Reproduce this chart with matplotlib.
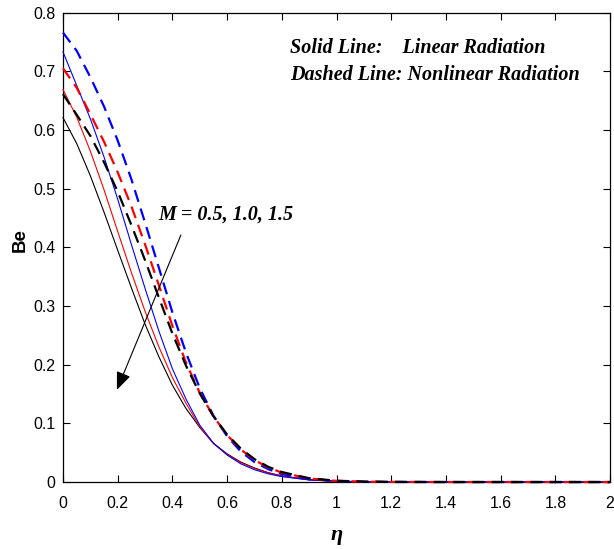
import matplotlib
matplotlib.use("Agg")
import matplotlib.pyplot as plt

# similarity variable
eta = [0.0, 0.05, 0.1, 0.15, 0.2, 0.25, 0.3, 0.35, 0.4, 0.45, 0.5, 0.55,
       0.6, 0.65, 0.7, 0.75, 0.8, 0.9, 1.0, 1.1, 1.2, 1.4, 1.6, 1.8, 2.0]

# Bejan number, linear radiation (solid), M = 0.5, 1.0, 1.5 -> blue, red, black
be_lin_black = [0.621, 0.577, 0.522, 0.460, 0.395, 0.331, 0.269, 0.214, 0.165, 0.125,
                0.093, 0.066, 0.048, 0.034, 0.024, 0.016, 0.0105, 0.004, 0.0015, 0.0005,
                0.0002, 0.0, 0.0, 0.0, 0.0]
be_lin_red = [0.669, 0.622, 0.564, 0.498, 0.427, 0.357, 0.291, 0.231, 0.178, 0.134,
              0.094, 0.066, 0.047, 0.033, 0.023, 0.0155, 0.010, 0.0037, 0.0013, 0.0004,
              0.0001, 0.0, 0.0, 0.0, 0.0]
be_lin_blue = [0.733, 0.676, 0.619, 0.554, 0.482, 0.405, 0.330, 0.258, 0.193, 0.141,
               0.097, 0.066, 0.046, 0.031, 0.021, 0.014, 0.0092, 0.0035, 0.0013, 0.0004,
               0.0001, 0.0, 0.0, 0.0, 0.0]

# Bejan number, nonlinear radiation (dashed)
be_nl_black = [0.661, 0.626, 0.590, 0.545, 0.495, 0.438, 0.378, 0.315, 0.253, 0.198,
               0.151, 0.112, 0.081, 0.057, 0.039, 0.026, 0.017, 0.0064, 0.0022, 0.0007,
               0.0002, 0.0, 0.0, 0.0, 0.0]
be_nl_red = [0.705, 0.672, 0.627, 0.580, 0.528, 0.470, 0.405, 0.336, 0.266, 0.203,
             0.152, 0.112, 0.080, 0.0555, 0.0375, 0.0248, 0.016, 0.006, 0.002, 0.0006,
             0.0002, 0.0, 0.0, 0.0, 0.0]
be_nl_blue = [0.766, 0.735, 0.690, 0.640, 0.582, 0.516, 0.442, 0.366, 0.289, 0.220,
              0.160, 0.113, 0.078, 0.052, 0.034, 0.022, 0.0135, 0.005, 0.0017, 0.0005,
              0.0001, 0.0, 0.0, 0.0, 0.0]

x_ticks = [0, 0.2, 0.4, 0.6, 0.8, 1.0, 1.2, 1.4, 1.6, 1.8, 2.0]
x_ticklabels = ["0", "0.2", "0.4", "0.6", "0.8", "1", "1.2", "1.4", "1.6", "1.8", "2"]
y_ticks = [0, 0.1, 0.2, 0.3, 0.4, 0.5, 0.6, 0.7, 0.8]
y_ticklabels = ["0", "0.1", "0.2", "0.3", "0.4", "0.5", "0.6", "0.7", "0.8"]

fig = plt.figure(figsize=(6.14, 5.49), dpi=100)
ax = fig.add_axes([0.1026, 0.122, 0.891, 0.855])

solid_kw = dict(lw=0.8, solid_joinstyle="round", zorder=3, clip_on=False)
ax.plot(eta, be_lin_black, color="black", **solid_kw)
ax.plot(eta, be_lin_red, color="#ff0000", **solid_kw)
ax.plot(eta, be_lin_blue, color="#0000ff", **solid_kw)

dash_kw = dict(lw=1.6, dashes=(5.5, 3.2), zorder=3, clip_on=False)
ax.plot(eta, be_nl_blue, color="#0000ff", **dash_kw)
ax.plot(eta, be_nl_red, color="#ff0000", **dash_kw)
ax.plot(eta, be_nl_black, color="black", **dash_kw)

ax.set_xlim(0, 2)
ax.set_ylim(0, 0.8)
ax.set_xticks(x_ticks)
ax.set_xticklabels(x_ticklabels)
ax.set_yticks(y_ticks)
ax.set_yticklabels(y_ticklabels)
ax.tick_params(direction="in", length=5, width=0.8, top=True, right=True,
               labelsize=11.4)
ax.tick_params(axis="x", pad=10)
ax.tick_params(axis="y", pad=5.5)
for lab in ax.get_xticklabels() + ax.get_yticklabels():
    lab.set_fontfamily("Liberation Sans")
for sp in ax.spines.values():
    sp.set_linewidth(0.9)

ax.set_xlabel("η", fontfamily="Liberation Serif", fontstyle="italic",
              fontweight="bold", fontsize=16, va="center")
ax.xaxis.set_label_coords(0.5, -0.113)
ax.set_ylabel("Be", fontfamily="Liberation Sans", fontweight="bold",
              fontsize=13.5, va="center")
ax.yaxis.set_label_coords(-0.079, 0.515)

note_kw = dict(fontfamily="Liberation Serif", fontstyle="italic",
               fontweight="bold", fontsize=14.5, va="center", ha="left")
ax.text(0.83, 0.739, "Solid Line:    Linear Radiation", **note_kw)
ax.text(0.83, 0.693, "Dashed Line: Nonlinear Radiation", **note_kw)

ax.text(0.35, 0.455, "M = 0.5, 1.0, 1.5", **note_kw)
ax.annotate("", xy=(0.197, 0.157), xytext=(0.431, 0.421),
            arrowprops=dict(arrowstyle="-|>,head_length=1.1,head_width=0.45",
                            color="black", lw=0.8, shrinkA=0, shrinkB=0))

fig.savefig("out.png", dpi=100)
